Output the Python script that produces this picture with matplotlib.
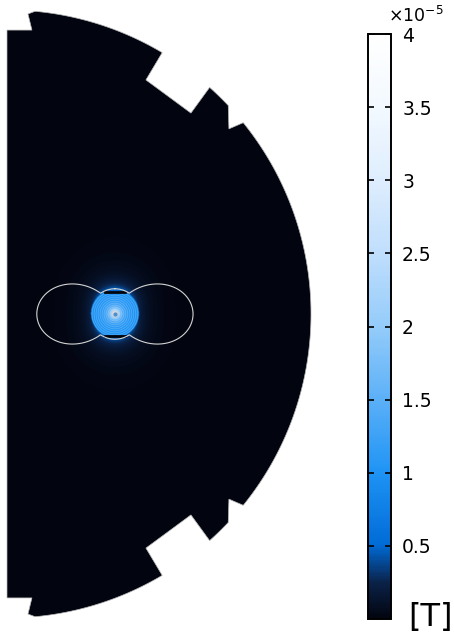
import numpy as np
import matplotlib
matplotlib.use("Agg")
import matplotlib.pyplot as plt
from matplotlib.colors import LinearSegmentedColormap
from matplotlib.patches import Polygon, Circle

# ---------------- data ----------------
# colour scale (tesla)
cbar_min, cbar_max = 0.0, 4e-5
cbar_ticks = [0.5e-5, 1e-5, 1.5e-5, 2e-5, 2.5e-5, 3e-5, 3.5e-5, 4e-5]
cbar_ticklabels = ["0.5", "1", "1.5", "2", "2.5", "3", "3.5", "4"]
cbar_unit = "[T]"
cbar_exponent = r"$\times10^{-5}$"

# magnet (disk) parameters, domain radius = 1
magnet_center = (0.355, 0.0)
magnet_radius = 0.079
magnet_flat = 0.072
B_center = 3.8e-5
B_edge = 1.0e-5
B_surface_out = 0.5e-5

# field line (lobes) parameters
line_lobe = 0.257
line_core = 0.083

# domain outline (upper half; the lower half is the mirror image)
top_axis = (0.0, 0.934)
top_step = [(0.082, 0.934), (0.069, 0.987)]
arc1_deg = (84.7, 59.3)
notch1 = [(0.457, 0.770), (0.605, 0.661)]
arc2_deg = (48.2, 43.3)
notch2 = [(0.730, 0.609)]
arc3_deg = (39.0, 0.0)

# ---------------- colormap ----------------
cmap = LinearSegmentedColormap.from_list("bluewhite", [
    (0.000, (0.01, 0.02, 0.06)),
    (0.060, (0.04, 0.13, 0.28)),
    (0.125, (0.00, 0.42, 0.84)),
    (0.250, (0.12, 0.58, 0.96)),
    (0.375, (0.36, 0.69, 0.97)),
    (0.500, (0.58, 0.80, 0.98)),
    (0.625, (0.75, 0.87, 0.99)),
    (0.750, (0.87, 0.93, 0.995)),
    (0.875, (0.95, 0.975, 1.0)),
    (1.000, (1.00, 1.00, 1.00)),
])

# ---------------- figure ----------------
W, H, DPI = 454, 635, 100
S = 304.0            # pixels per unit radius
ox, oy = 7.0, 314.0  # pixel position of domain centre
fig = plt.figure(figsize=(W / DPI, H / DPI), dpi=DPI)
ax = fig.add_axes([0, 0, 1, 1])
ax.set_xlim(-ox / S, (W - ox) / S)
ax.set_ylim(-(H - oy) / S, oy / S)
ax.axis("off")

def arc(a0, a1, n=80):
    t = np.radians(np.linspace(a0, a1, n))
    return list(zip(np.cos(t), np.sin(t)))

upper = [top_axis] + top_step + arc(*arc1_deg) + notch1 + arc(*arc2_deg) + notch2 + arc(*arc3_deg)
lower = [(x, -y) for (x, y) in upper[::-1]]
outline = upper + lower[1:]

# field image
nx, ny = 700, 1400
xs = np.linspace(0, 1.0, nx)
ys = np.linspace(-1.0, 1.0, ny)
X, Y = np.meshgrid(xs, ys)
dx = X - magnet_center[0]
dy = Y - magnet_center[1]
r = np.hypot(dx, dy)
inside = (r < magnet_radius) & (np.abs(dy) < magnet_flat)
B_in = B_edge + (B_center - B_edge) * np.exp(-r / (0.18 * magnet_radius))
cos_t = np.where(r > 0, dy / np.maximum(r, 1e-9), 1)
ang = np.sqrt(1 + 3 * cos_t ** 2) / 2
B_out = B_surface_out * (magnet_radius / np.maximum(r, magnet_radius)) ** 3.0 * ang
B = np.where(inside, B_in, B_out)

im = ax.imshow(B, extent=(0, 1, -1, 1), origin="lower", cmap=cmap,
               vmin=cbar_min, vmax=cbar_max, interpolation="bilinear", zorder=1)
poly = Polygon(outline, closed=True, facecolor="none", edgecolor="#b8b8b8",
               lw=0.5, zorder=5)
ax.add_patch(poly)
im.set_clip_path(poly)

# concentric rings inside magnet
rings = np.linspace(0.12, 0.95, 11) * magnet_radius
Rm = np.where(inside, r, np.nan)
ax.contour(X, Y, Rm, levels=rings, colors="white", linewidths=0.5, alpha=0.22, zorder=2)

# flats of magnet
half = np.sqrt(magnet_radius ** 2 - magnet_flat ** 2)
for s in (1, -1):
    ax.plot([magnet_center[0] - half, magnet_center[0] + half],
            [s * magnet_flat, s * magnet_flat], color="#02040c", lw=2.0, zorder=3)

# centre spot
ax.add_patch(Circle(magnet_center, 0.012, facecolor="#d9c9c0", edgecolor="none",
                    alpha=0.5, zorder=3))
ax.plot(*magnet_center, marker="o", ms=2, color="#4a8fd0", zorder=4)

# field line (two lobes joined over the magnet)
phi = np.linspace(0, 2 * np.pi, 1500)
rr = np.maximum(line_lobe * np.sin(phi) ** 2, line_core)
ax.plot(magnet_center[0] + rr * np.sin(phi), magnet_center[1] + rr * np.cos(phi),
        color="#d4d4d4", lw=0.8, zorder=4)

# ---------------- colorbar ----------------
cax = fig.add_axes([368 / W, 1 - 619 / H, 23 / W, (619 - 34) / H])
cb = fig.colorbar(im, cax=cax, ticks=cbar_ticks)
cb.outline.set_linewidth(1.4)
cb.outline.set_edgecolor("black")
cax.yaxis.set_ticks_position("both")
cax.tick_params(axis="y", direction="in", length=4, width=1.2, pad=8,
                labelsize=13.5, colors="black", left=True, right=True)
cax.set_yticklabels(cbar_ticklabels)
fig.text(388 / W, 1 - 22 / H, cbar_exponent, fontsize=12.5, ha="left", va="baseline")
fig.text(408 / W, 1 - 626 / H, cbar_unit, fontsize=23, ha="left", va="baseline")

fig.savefig("out.png", dpi=DPI)
